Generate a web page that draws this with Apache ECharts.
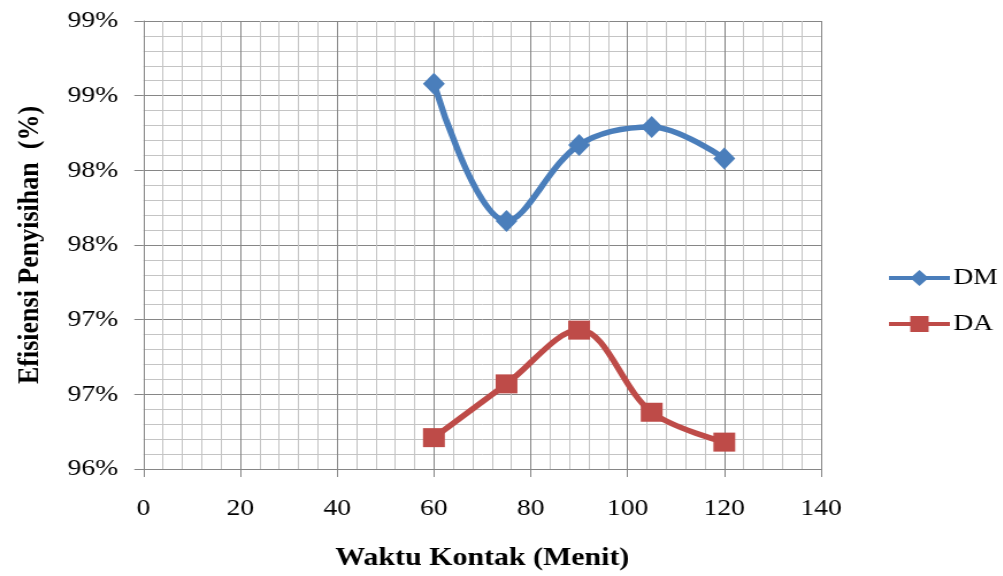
<!DOCTYPE html>
<html>
<head>
<meta charset="utf-8">
<script src="https://cdn.jsdelivr.net/npm/echarts@6/dist/echarts.min.js"></script>
<style>
  html, body { margin: 0; padding: 0; background: #ffffff; overflow: hidden; }
  /* The chart is laid out at a narrower width and widened horizontally */
  #chart { width: 872px; height: 576px; transform: scaleX(1.15); transform-origin: 0 0; }
</style>
</head>
<body>
<div id="chart"></div>
<script>
// Contact time (minutes) and removal efficiency (%) for the two series
const contactTimes = [60, 75, 90, 105, 120];
const dmValues = [98.58, 97.66, 98.17, 98.29, 98.08];
const daValues = [96.21, 96.57, 96.93, 96.38, 96.18];
const seriesNames = ['DM', 'DA'];
const xTitle = 'Waktu Kontak (Menit)';
const yTitle = 'Efisiensi Penyisihan  (%)';

const FONT = '"Liberation Serif", "Times New Roman", serif';
const MAJOR = '#868686';
const MINOR = '#c4c4c4';

const pairs = (xs, ys) => xs.map((x, i) => [x, ys[i]]);

const chart = echarts.init(document.getElementById('chart'));
chart.setOption({
  animation: false,
  backgroundColor: '#ffffff',
  grid: { left: 124.8, right: 158, top: 21, bottom: 103, containLabel: false },
  xAxis: {
    type: 'value',
    min: 0, max: 140, interval: 20,
    name: xTitle,
    nameLocation: 'middle',
    nameGap: 76,
    nameTextStyle: { fontFamily: FONT, fontSize: 26, fontWeight: 'bold', color: '#000' },
    axisLine: { show: true, lineStyle: { color: MAJOR, width: 1 } },
    axisTick: { show: true, length: 8, lineStyle: { color: MAJOR } },
    axisLabel: { margin: 28, fontFamily: FONT, fontSize: 24, color: '#000' },
    splitLine: { show: true, lineStyle: { color: MAJOR, width: 1 } },
    minorTick: { show: false, splitNumber: 5 },
    minorSplitLine: { show: true, lineStyle: { color: MINOR, width: 1 } }
  },
  yAxis: {
    type: 'value',
    min: 96, max: 99, interval: 0.5,
    name: yTitle,
    nameLocation: 'middle',
    nameGap: 86,
    nameTextStyle: { fontFamily: FONT, fontSize: 26, fontWeight: 'bold', color: '#000' },
    axisLine: { show: true, lineStyle: { color: MAJOR, width: 1 } },
    axisTick: { show: true, length: 8, lineStyle: { color: MAJOR } },
    axisLabel: {
      margin: 22, fontFamily: FONT, fontSize: 24, color: '#000',
      formatter: v => Math.round(v + 1e-9) + '%'
    },
    splitLine: { show: true, lineStyle: { color: MAJOR, width: 1 } },
    minorTick: { show: false, splitNumber: 5 },
    minorSplitLine: { show: true, lineStyle: { color: MINOR, width: 1 } }
  },
  legend: {
    orient: 'vertical',
    left: 766,
    top: 261,
    itemWidth: 53,
    itemHeight: 20,
    itemGap: 22,
    lineStyle: { width: 4 },
    textStyle: { fontFamily: FONT, fontSize: 24, color: '#000', padding: [0, 0, 0, -2] },
    data: seriesNames
  },
  series: [
    {
      name: seriesNames[0],
      type: 'line',
      data: pairs(contactTimes, dmValues),
      smooth: 0.35,
      symbol: 'diamond',
      symbolSize: [19, 22],
      color: '#4A7EBB',
      lineStyle: { width: 5.5, color: '#4A7EBB' },
      itemStyle: { color: '#4A7EBB' }
    },
    {
      name: seriesNames[1],
      type: 'line',
      data: pairs(contactTimes, daValues),
      smooth: 0.35,
      symbol: 'rect',
      symbolSize: [19, 19],
      color: '#BE4B48',
      lineStyle: { width: 5.5, color: '#BE4B48' },
      itemStyle: { color: '#BE4B48' }
    }
  ]
});
</script>
</body>
</html>
